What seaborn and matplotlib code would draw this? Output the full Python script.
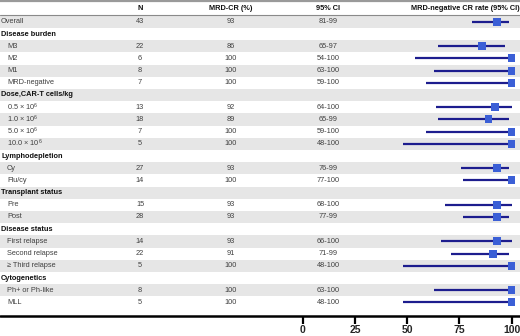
import numpy as np
import pandas as pd
import matplotlib
matplotlib.use("Agg")
import matplotlib.pyplot as plt
import seaborn as sns

sns.set_style("white")
plt.rcParams['font.family'] = ['Liberation Sans', 'DejaVu Sans']
plt.rcParams['mathtext.fontset'] = 'custom'
plt.rcParams['mathtext.rm'] = 'Liberation Sans'
plt.rcParams['mathtext.it'] = 'Liberation Sans:italic'
plt.rcParams['mathtext.bf'] = 'Liberation Sans:bold'

# ---- data ----
labels = ["Overall", "Disease burden", "M3", "M2", "M1", "MRD-negative",
          "Dose,CAR-T cells/kg", r"0.5 $\times$ 10$^6$", r"1.0 $\times$ 10$^6$",
          r"5.0 $\times$ 10$^6$", r"10.0 $\times$ 10$^6$",
          "Lymphodepletion", "Cy", "Flu/cy",
          "Transplant status", "Pre", "Post",
          "Disease status", "First relapse", "Second relapse", "\u2265 Third relapse",
          "Cytogenetics", "Ph+ or Ph-like", "MLL"]
is_group = [False, True, False, False, False, False,
            True, False, False, False, False,
            True, False, False,
            True, False, False,
            True, False, False, False,
            True, False, False]
n_vals = [43, None, 22, 6, 8, 7, None, 13, 18, 7, 5, None, 27, 14, None, 15, 28,
          None, 14, 22, 5, None, 8, 5]
rate = [93, None, 86, 100, 100, 100, None, 92, 89, 100, 100, None, 93, 100, None,
        93, 93, None, 93, 91, 100, None, 100, 100]
ci_low = [81, None, 65, 54, 63, 59, None, 64, 65, 59, 48, None, 76, 77, None,
          68, 77, None, 66, 71, 48, None, 63, 48]
ci_high = [99, None, 97, 100, 100, 100, None, 100, 99, 100, 100, None, 99, 100, None,
           100, 99, None, 100, 99, 100, None, 100, 100]
col_headers = ["N", "MRD-CR (%)", "95% CI", "MRD-negative CR rate (95% CI)"]
ticks = [0, 25, 50, 75, 100]

# ---- layout (pixel coordinates) ----
W, H = 520, 336
fig = plt.figure(figsize=(W / 100, H / 100), dpi=100)
tab = fig.add_axes([0, 0, 1, 1])
tab.set_xlim(0, W)
tab.set_ylim(H, 0)
tab.axis("off")

y0, dy = 21.8, 12.2
ys = [y0 + i * dy for i in range(len(labels))]
fs = 5.3
txt = "#404040"

# bands
for i, y in enumerate(ys):
    if i % 2 == 0:
        tab.axhspan(y - dy / 2, y + dy / 2, color="#e6e6e6", lw=0, zorder=0)

# lines
tab.plot([0, W], [1.2, 1.2], color="#9a9a9a", lw=1.6, zorder=2)
tab.plot([0, W], [14.5, 14.5], color="#8a8a8a", lw=0.8, zorder=2)
tab.plot([0, W], [315.5, 315.5], color="black", lw=1.8, zorder=2)

# headers
hx = [140, 231, 328, 465]
for x, t in zip(hx, col_headers):
    tab.text(x, 9, t, ha="center", va="center", fontsize=fs, fontweight="bold", color="#111111")

for i, y in enumerate(ys):
    if is_group[i]:
        tab.text(1, y, labels[i], ha="left", va="center", fontsize=fs, fontweight="bold", color="#111111")
    else:
        x = 1 if i == 0 else 7
        tab.text(x, y, labels[i], ha="left", va="center", fontsize=fs, color=txt)
        tab.text(hx[0], y, str(n_vals[i]), ha="center", va="center", fontsize=fs, color=txt)
        tab.text(hx[1], y, str(rate[i]), ha="center", va="center", fontsize=fs, color=txt)
        tab.text(hx[2], y, f"{ci_low[i]}-{ci_high[i]}", ha="center", va="center", fontsize=fs, color=txt)

# ---- forest axes ----
x0px, x100px = 302.7, 511.5
fax = fig.add_axes([x0px / W, (H - 315.5) / H, (x100px - x0px) / W, 315.5 / H])
fax.set_facecolor("none")

df = pd.DataFrame({"y": ys, "rate": rate, "lo": ci_low, "hi": ci_high}).dropna()
fax.hlines(df["y"], df["lo"], df["hi"], color="#1d1d8e", lw=1.6, zorder=3, clip_on=False)
sns.scatterplot(data=df, x="rate", y="y", marker="s", s=32, color="#3b5fd6",
                edgecolor="none", ax=fax, zorder=4, clip_on=False, legend=False)
fax.set_ylim(315.5, 0)
fax.set_xlim(0, 100)
for s in ["top", "right", "left", "bottom"]:
    fax.spines[s].set_visible(False)
fax.set_yticks([])
fax.set_xticks(ticks)
fax.set_xticklabels([str(t) for t in ticks], fontsize=7.5, fontweight="bold")
fax.tick_params(axis="x", direction="out", length=5.5, width=1.6, color="black", pad=1, bottom=True)
fax.set_xlabel("")
fax.set_ylabel("")

fig.savefig("out.png", dpi=100)
